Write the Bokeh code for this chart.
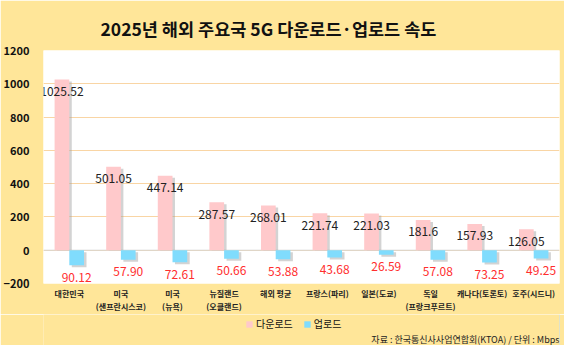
from bokeh.plotting import figure
from bokeh.layouts import column
from bokeh.models import (ColumnDataSource, FactorRange, Range1d, LabelSet, Legend,
                          LegendItem, Title, Span, FixedTicker, Label)
from bokeh.core.properties import value
from bokeh.transform import dodge
from bokeh.embed import file_html
from bokeh.resources import INLINE

categories = ["대한민국", "미국\n(샌프란시스코)", "미국\n(뉴욕)", "뉴질랜드\n(오클랜드)", "해외 평균",
              "프랑스(파리)", "일본(도쿄)", "독일\n(프랑크푸르트)", "캐나다(토론토)", "호주(시드니)"]
download = [1025.52, 501.05, 447.14, 287.57, 268.01, 221.74, 221.03, 181.6, 157.93, 126.05]
upload = [90.12, 57.90, 72.61, 50.66, 53.88, 43.68, 26.59, 57.08, 73.25, 49.25]
y_ticks = [-200, 0, 200, 400, 600, 800, 1000, 1200]
series_names = ["다운로드", "업로드"]

title_text = "2025년 해외 주요국 5G 다운로드·업로드 속도"
source_text = "자료 : 한국통신사사업연합회(KTOA) / 단위 : Mbps"

BG = "#FFE699"
PINK = "#FFC9CB"
BLUE = "#80DCFD"
RED = "#FF2E2E"
FONT = "Noto Sans CJK KR"

shadow_dy = 12  # ~2px in data units
src = ColumnDataSource(dict(
    cat=categories,
    down=download,
    up=[-v for v in upload],
    down_sh=[v - shadow_dy for v in download],
    up_sh_top=[-shadow_dy] * len(upload),
    up_sh_bot=[-v - shadow_dy for v in upload],
    down_lbl=[str(v) for v in download],
    up_lbl=[f"{v:.2f}" for v in upload],
))

p = figure(x_range=FactorRange(*categories), y_range=Range1d(-200, 1200),
           width=564, height=314, output_backend="svg", toolbar_location=None,
           min_border_left=40, min_border_right=5, min_border_top=50, min_border_bottom=31,
           background_fill_color="white", border_fill_color=BG, outline_line_color=None)

p.title = Title(text=title_text, align="left", offset=57, standoff=20, text_font=FONT,
                text_font_size="17.5px", text_font_style="bold", text_color="#111111")

bw = 0.285
dd = -0.1426
du = 0.1426
sx = 0.048
# soft drop shadows
p.vbar(x=dodge("cat", dd + sx, range=p.x_range), top="down_sh", bottom=0, width=bw,
       source=src, fill_color="#9E9E9E", fill_alpha=0.45, line_color=None)
p.vbar(x=dodge("cat", du + sx, range=p.x_range), top="up_sh_top", bottom="up_sh_bot", width=bw,
       source=src, fill_color="#9E9E9E", fill_alpha=0.45, line_color=None)
r_down = p.vbar(x=dodge("cat", dd, range=p.x_range), top="down", bottom=0, width=bw,
                source=src, fill_color=PINK, line_color=None)
r_up = p.vbar(x=dodge("cat", du, range=p.x_range), top=0, bottom="up", width=bw,
              source=src, fill_color=BLUE, line_color=None)

p.add_layout(Span(location=0, dimension="width", line_color="#D6D6D6", line_width=1, level="underlay"))

p.add_layout(LabelSet(x=dodge("cat", dd, range=p.x_range), y="down", text="down_lbl", source=src,
                      y_offset=-12, text_align="center", text_baseline="middle",
                      text_font=value(FONT), text_font_size=value("12px"), text_color="#222222"))
p.add_layout(LabelSet(x=dodge("cat", du, range=p.x_range), y="up", text="up_lbl", source=src,
                      y_offset=-12, text_align="center", text_baseline="middle",
                      text_font=value(FONT), text_font_size=value("12px"), text_color=RED))

p.xgrid.grid_line_color = None
p.ygrid.grid_line_color = "#F9D5A4"
p.ygrid.ticker = FixedTicker(ticks=y_ticks)

p.yaxis.ticker = FixedTicker(ticks=y_ticks)
p.yaxis.axis_line_color = None
p.yaxis.major_tick_line_color = None
p.yaxis.minor_tick_line_color = None
p.yaxis.major_label_standoff = 8
p.yaxis.major_label_text_font = FONT
p.yaxis.major_label_text_font_style = "bold"
p.yaxis.major_label_text_font_size = "11px"
p.yaxis.major_label_text_color = "#111111"

p.xaxis.axis_line_color = None
p.xaxis.major_tick_line_color = None
p.xaxis.major_label_standoff = -2
p.xaxis.major_label_text_font = FONT
p.xaxis.major_label_text_font_style = "bold"
p.xaxis.major_label_text_font_size = "8px"
p.xaxis.major_label_text_color = "#222222"

# footer strip: legend + source
f = figure(width=564, height=31, x_range=Range1d(0, 1), y_range=Range1d(0, 1),
           output_backend="svg", toolbar_location=None, x_axis_type=None, y_axis_type=None,
           min_border=0, background_fill_color=BG, border_fill_color=BG, outline_line_color=None)
f.xgrid.grid_line_color = None
f.ygrid.grid_line_color = None
# legend swatches (kept outside the visible range of the strip)
e1 = f.vbar(x=[5], top=[5], width=0.1, fill_color=PINK, line_color=None)
e2 = f.vbar(x=[5], top=[5], width=0.1, fill_color=BLUE, line_color=None)
legend = Legend(items=[LegendItem(label=series_names[0], renderers=[e1]),
                       LegendItem(label=series_names[1], renderers=[e2])],
                orientation="horizontal", location=(200, 12),
                background_fill_alpha=0, border_line_alpha=0,
                label_text_font=FONT, label_text_font_size="10px", label_text_color="#111111",
                glyph_width=8, glyph_height=8, spacing=10, padding=2, margin=0,
                label_standoff=3, label_height=12)
f.add_layout(legend, "center")
f.add_layout(Label(x=516, y=6, x_units="screen", y_units="screen", text=source_text,
                   text_align="right", text_baseline="middle", text_font=FONT,
                   text_font_size="9px", text_color="#222222"))

layout = column(p, f, spacing=0)
open("out.html", "w").write(file_html(layout, INLINE))
